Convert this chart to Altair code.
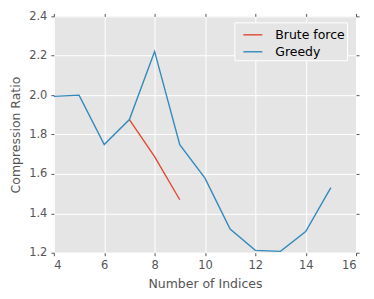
import altair as alt
import pandas as pd

x_greedy = [4, 5, 6, 7, 8, 9, 10, 11, 12, 13, 14, 15]
greedy = [1.994, 2.0, 1.749, 1.876, 2.222, 1.749, 1.579, 1.32, 1.212, 1.207, 1.307, 1.53]
x_brute = [7, 8, 9]
brute = [1.876, 1.688, 1.469]
series = ["Brute force", "Greedy"]
colors = ["#E24A33", "#348ABD"]
x_ticks = [4, 6, 8, 10, 12, 14, 16]
y_ticks = [1.2, 1.4, 1.6, 1.8, 2.0, 2.2, 2.4]

df = pd.concat([
    pd.DataFrame({"n": x_brute, "ratio": brute, "method": series[0]}),
    pd.DataFrame({"n": x_greedy, "ratio": greedy, "method": series[1]}),
])

xs = alt.Scale(domain=[4, 16], nice=False, zero=False)
ys = alt.Scale(domain=[1.2, 2.4], nice=False, zero=False)

lines = alt.Chart(df).mark_line(strokeWidth=1.4).encode(
    x=alt.X("n:Q", scale=xs, title="Number of Indices",
            axis=alt.Axis(values=x_ticks, format="d", orient="bottom")),
    y=alt.Y("ratio:Q", scale=ys, title="Compression Ratio",
            axis=alt.Axis(values=y_ticks, format=".1f", orient="left")),
    color=alt.Color("method:N", scale=alt.Scale(domain=series, range=colors),
                    legend=alt.Legend(title=None, orient="none", legendX=181, legendY=6,
                                      symbolType="stroke", symbolSize=361,
                                      symbolStrokeWidth=1.4, symbolOffset=6,
                                      labelOffset=12,
                                      labelFontSize=12.5, labelColor="#000000",
                                      labelFont="DejaVu Sans",
                                      rowPadding=0, padding=2,
                                      fillColor="#E5E5E5", strokeColor="#FFFFFF",
                                      cornerRadius=0)),
    detail="method:N",
)

frame = alt.Chart(df).mark_point(opacity=0).encode(
    x=alt.X("n:Q", scale=xs, title=None,
            axis=alt.Axis(values=x_ticks, orient="top", labels=False, grid=False)),
    y=alt.Y("ratio:Q", scale=ys, title=None,
            axis=alt.Axis(values=y_ticks, orient="right", labels=False, grid=False)),
)

chart = alt.layer(lines, frame).resolve_axis(x="independent", y="independent").properties(
    width=303, height=237,
    autosize=alt.AutoSizeParams(type="none"),
    padding={"left": 46, "top": 8, "right": 10, "bottom": 40},
).configure_view(
    fill="#E5E5E5", stroke=None
).configure_axis(
    domain=False, grid=True, gridColor="#FFFFFF", gridWidth=1,
    tickColor="#555555", tickSize=3, tickWidth=1,
    labelColor="#555555", labelFont="DejaVu Sans", labelFontSize=11.5, labelPadding=4,
    titleColor="#555555", titleFont="DejaVu Sans", titleFontSize=12.5, titleFontWeight="normal",
).configure_axisX(titlePadding=6).configure_axisY(titlePadding=6)

chart.save("out.html", embed_options={"renderer": "svg", "actions": False})
